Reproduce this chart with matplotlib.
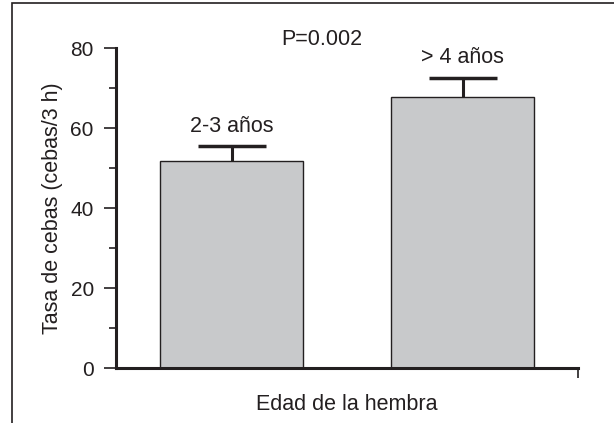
import matplotlib.pyplot as plt
from matplotlib.patches import Rectangle
from matplotlib.ticker import MultipleLocator

plt.rcParams['font.family'] = ['Liberation Sans', 'DejaVu Sans']

# data
groups = ['2-3 años', '> 4 años']
rate = [51.8, 67.7]
err = [3.7, 4.9]
p_text = 'P=0.002'

ink = '#231f20'

fig = plt.figure(figsize=(6.14, 4.23), dpi=100)
ax = fig.add_axes([116 / 614, 1 - 368 / 423, (578 - 116) / 614, (368 - 48) / 423])

pos = list(range(len(groups)))
tops = [v + e for v, e in zip(rate, err)]
ax.bar(pos, rate, width=0.62, color='#c8c9cb', edgecolor=ink, linewidth=1.0, zorder=2)
ax.vlines(pos, rate, tops, color=ink, linewidth=2.2, zorder=3)
ax.plot(pos, tops, linestyle='none', marker='_', markersize=68 * 0.72,
        markeredgewidth=2.5, color=ink, zorder=3)

for x, t, g in zip(pos, tops, groups):
    ax.text(x, t + 2.3, g, ha='center', va='bottom', fontsize=15.5, color=ink)

ax.text(0.39, 82.1, p_text, ha='center', va='center', fontsize=15.5, color=ink,
        clip_on=False)

ax.set_xlim(-0.5, 1.5)
ax.set_ylim(0, 80)
ax.yaxis.set_major_locator(MultipleLocator(20))
ax.yaxis.set_minor_locator(MultipleLocator(10))
ax.set_xticks([1.5])
ax.set_xticklabels([''])
ax.tick_params(axis='x', length=7, width=1.2, color=ink)
ax.tick_params(axis='y', which='major', length=9, width=1.2, pad=7, labelsize=15,
               colors=ink)
ax.tick_params(axis='y', which='minor', length=5, width=1.2, color=ink)

for s in ['top', 'right']:
    ax.spines[s].set_visible(False)
for s in ['left', 'bottom']:
    ax.spines[s].set_linewidth(2.2)
    ax.spines[s].set_color(ink)

ax.set_ylabel('Tasa de cebas (cebas/3 h)', fontsize=15.5, color=ink, labelpad=5)
ax.set_xlabel('Edad de la hembra', fontsize=15.5, color=ink, labelpad=8)

# outer frame (only left and top edges visible in the crop)
frame = Rectangle((12 / 614, -0.2), 1.5, 1.2 - 3 / 423, transform=fig.transFigure,
                  fill=False, edgecolor=ink, linewidth=1.2, clip_on=False)
fig.patches.append(frame)

fig.savefig('out.png', dpi=100)
